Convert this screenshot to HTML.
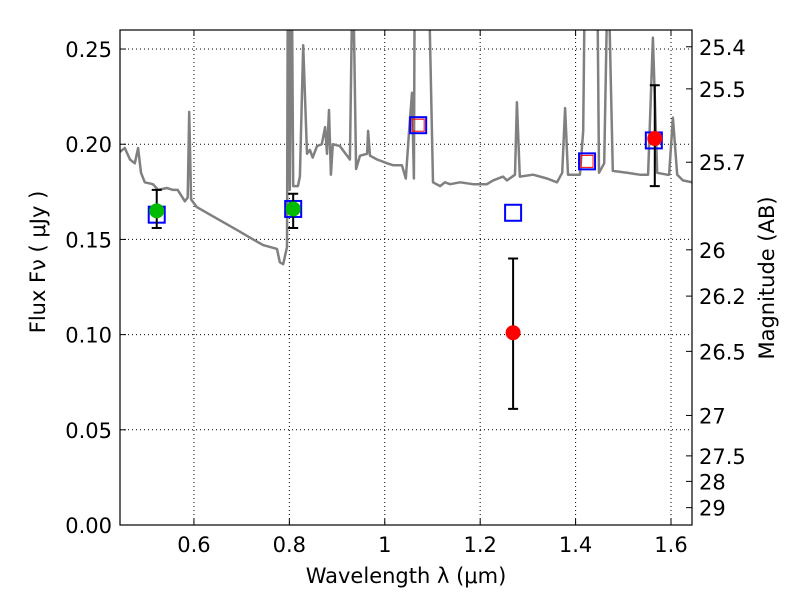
<!DOCTYPE html>
<html><head><meta charset="utf-8"><style>
body{margin:0;background:#fff;}
svg text{font-family:"DejaVu Sans","Liberation Sans",sans-serif;fill:#000;}
</style></head><body>
<svg id="chart" width="800" height="600" xmlns="http://www.w3.org/2000/svg"></svg>
<script>
const specWl=[0.445,0.455,0.466,0.476,0.483,0.489,0.497,0.514,0.525,0.543,0.556,0.566,0.581,0.587,0.590,0.594,0.606,0.627,0.655,0.690,0.724,0.745,0.774,0.780,0.787,0.795,0.797,0.801,0.805,0.808,0.818,0.822,0.829,0.837,0.843,0.849,0.858,0.868,0.875,0.879,0.883,0.887,0.891,0.906,0.927,0.933,0.940,0.948,0.963,0.965,0.969,0.984,1.005,1.017,1.036,1.044,1.051,1.057,1.061,1.063,1.091,1.101,1.116,1.126,1.137,1.158,1.185,1.214,1.227,1.248,1.256,1.273,1.277,1.283,1.311,1.340,1.361,1.372,1.378,1.384,1.409,1.416,1.420,1.445,1.449,1.460,1.468,1.478,1.508,1.535,1.552,1.562,1.571,1.592,1.596,1.604,1.613,1.625,1.644];
const specFlux=[0.196,0.198,0.192,0.190,0.198,0.185,0.180,0.179,0.176,0.177,0.176,0.176,0.170,0.172,0.217,0.171,0.167,0.164,0.160,0.155,0.150,0.147,0.145,0.138,0.137,0.146,0.300,0.176,0.300,0.178,0.178,0.183,0.252,0.195,0.197,0.193,0.199,0.200,0.209,0.195,0.218,0.184,0.200,0.199,0.192,0.300,0.187,0.194,0.195,0.207,0.194,0.192,0.190,0.189,0.189,0.182,0.207,0.227,0.182,0.300,0.300,0.180,0.178,0.180,0.179,0.180,0.179,0.179,0.181,0.183,0.181,0.184,0.222,0.183,0.184,0.182,0.180,0.185,0.219,0.184,0.184,0.207,0.300,0.300,0.185,0.190,0.300,0.186,0.185,0.184,0.184,0.256,0.185,0.184,0.184,0.214,0.184,0.181,0.180];
const photWl=[0.522,0.808,1.269,1.566];
const photFlux=[0.165,0.166,0.101,0.203];
const photLo=[0.156,0.156,0.061,0.178];
const photHi=[0.176,0.174,0.140,0.231];
const photColor=['#00bb00','#00bb00','red','red'];
const modelWl=[0.522,0.808,1.070,1.269,1.424,1.564];
const modelFlux=[0.163,0.166,0.210,0.164,0.191,0.202];
const redBoxWl=[1.070,1.424];
const redBoxFlux=[0.210,0.191];
const xTicks=[0.6,0.8,1.0,1.2,1.4,1.6];
const xTickLabels=['0.6','0.8','1','1.2','1.4','1.6'];
const yTicks=[0,0.05,0.10,0.15,0.20,0.25];
const yTickLabels=['0.00','0.05','0.10','0.15','0.20','0.25'];
const magTicks=[25.4,25.5,25.7,26,26.2,26.5,27,27.5,28,29];
const magLabels=['25.4','25.5','25.7','26','26.2','26.5','27','27.5','28','29'];

const L=120,R=692,T=30,B=525,X0=0.445,X1=1.644,Y0=0,Y1=0.26;
const sx=v=>L+(v-X0)/(X1-X0)*(R-L);
const sy=v=>B-(v-Y0)/(Y1-Y0)*(B-T);
const svg=document.getElementById('chart');
const NS='http://www.w3.org/2000/svg';
function mk(tag,at,txt){const e=document.createElementNS(NS,tag);for(const k in at)e.setAttribute(k,at[k]);if(txt!=null)e.textContent=txt;svg.appendChild(e);return e;}

const cp=document.createElementNS(NS,'clipPath');cp.setAttribute('id','pc');
const cr=document.createElementNS(NS,'rect');cr.setAttribute('x',L);cr.setAttribute('y',T);cr.setAttribute('width',R-L);cr.setAttribute('height',B-T);
cp.appendChild(cr);svg.appendChild(cp);

xTicks.forEach((v,i)=>{const x=sx(v);
 let g=mk('line',{x1:x,x2:x,y1:T,y2:B,stroke:'#000','stroke-dasharray':'1,3','stroke-width':1});
 
 mk('line',{x1:x,x2:x,y1:B,y2:B-6,stroke:'#000'});mk('line',{x1:x,x2:x,y1:T,y2:T+6,stroke:'#000'});
 let t=mk('text',{x:x,y:B+27,'text-anchor':'middle','font-size':21},xTickLabels[i]);
 
});
yTicks.forEach((v,i)=>{const y=sy(v);
 let g=mk('line',{x1:L,x2:R,y1:y,y2:y,stroke:'#000','stroke-dasharray':'1,3','stroke-width':1});
 
 mk('line',{x1:L,x2:L+6,y1:y,y2:y,stroke:'#000'});
 let t=mk('text',{x:L-8,y:y+8,'text-anchor':'end','font-size':21},yTickLabels[i]);
 
});
magTicks.forEach((m,i)=>{const y=sy(Math.pow(10,(23.9-m)/2.5));
 mk('line',{x1:R,x2:R-6,y1:y,y2:y,stroke:'#000'});
 let t=mk('text',{x:R+7,y:y+8,'font-size':21},magLabels[i]);
 
});

let d=specWl.map((w,i)=>(i?'L':'M')+sx(w).toFixed(1)+','+sy(specFlux[i]).toFixed(1)).join(' ');
let sp=mk('path',{d:d,fill:'none',stroke:'#808080','stroke-width':2.5,'clip-path':'url(#pc)','stroke-linejoin':'round'});


modelWl.forEach((w,i)=>{let r=mk('rect',{x:sx(w)-8,y:sy(modelFlux[i])-8,width:16,height:16,fill:'none',stroke:'#0000ff','stroke-width':2});
 });
redBoxWl.forEach((w,i)=>{let r=mk('rect',{x:sx(w)-6,y:sy(redBoxFlux[i])-6,width:12,height:12,fill:'none',stroke:'red','stroke-width':1});
 });

photWl.forEach((w,i)=>{const x=sx(w);
 let e=mk('path',{d:`M${x},${sy(photLo[i])}L${x},${sy(photHi[i])}M${x-5},${sy(photLo[i])}L${x+5},${sy(photLo[i])}M${x-5},${sy(photHi[i])}L${x+5},${sy(photHi[i])}`,stroke:'#000','stroke-width':2,fill:'none'});
 
 let c=mk('circle',{cx:x,cy:sy(photFlux[i]),r:7.5,fill:photColor[i]});
 
});

let fr=mk('rect',{x:L,y:T,width:R-L,height:B-T,fill:'none',stroke:'#000','stroke-width':1.2});


let xt=mk('text',{x:406,y:583,'text-anchor':'middle','font-size':21},'Wavelength  λ (μm)');

let yt=mk('text',{x:0,y:0,'text-anchor':'middle','font-size':21,transform:'translate(45,262) rotate(-90)'},'Flux  Fν  ( μJy )');

let rt=mk('text',{x:0,y:0,'text-anchor':'middle','font-size':21,transform:'translate(774,278) rotate(-90)'},'Magnitude (AB)');

</script>
</body></html>
